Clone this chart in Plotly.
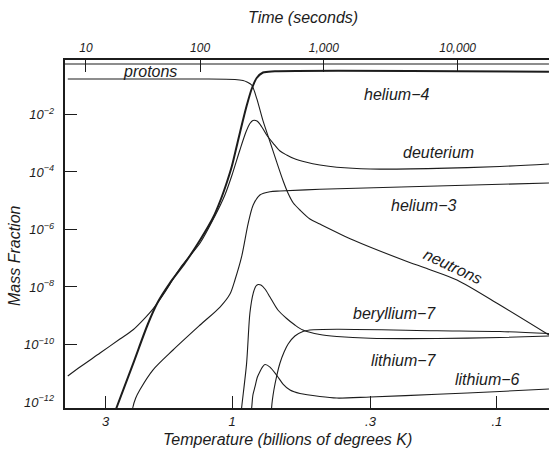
import numpy as np
import plotly.graph_objects as go

# ---------------- data (temperature in 10^9 K, mass fraction) ----------------
protons_T = [4.28, 0.0636]
protons_M = [0.57, 0.57]

neutrons_T = [4.17, 1.32, 0.975, 0.909, 0.878, 0.843, 0.807, 0.762, 0.719, 0.679, 0.641,
              0.615, 0.587, 0.554, 0.508, 0.466, 0.349, 0.226, 0.182, 0.1415, 0.0974, 0.0636]
neutrons_M = [0.171, 0.171, 0.165, 0.152, 0.135, 0.106, 0.0365, 5.61e-3, 1.13e-3, 2.28e-4, 4.85e-5,
              1.86e-5, 8.34e-6, 4.76e-6, 2.32e-6, 1.55e-6, 4.31e-7, 8.69e-8, 4.23e-8, 1.75e-8, 2.36e-9, 2.14e-10]

he4_T = [2.84, 2.73, 2.36, 2.078, 1.905, 1.716, 1.506, 1.32, 1.181, 1.101, 1.045, 1.001, 0.950,
         0.909, 0.881, 0.843, 0.807, 0.764, 0.689, 0.0636]
he4_M = [2.36e-13, 6.3e-13, 2.21e-11, 5.16e-10, 3.0e-9, 1.37e-8, 6.83e-8, 4.31e-7, 2.51e-6, 1.15e-5,
         4.49e-5, 1.61e-4, 1.20e-3, 6.42e-3, 0.0197, 0.0769, 0.186, 0.289, 0.318, 0.308]

deut_T = [4.17, 3.75, 3.15, 2.65, 2.37, 2.133, 1.99, 1.79, 1.57, 1.32, 1.16, 1.064, 1.0, 0.934, 0.886,
          0.856, 0.834, 0.805, 0.773, 0.740, 0.699, 0.659, 0.622, 0.587, 0.523, 0.466, 0.402,
          0.301, 0.168, 0.0974, 0.0636]
deut_M = [8.0e-12, 1.64e-11, 5.05e-11, 1.55e-10, 3.19e-10, 8.34e-10, 1.71e-9, 6.68e-9, 4.57e-8, 3.39e-7,
          2.95e-6, 1.58e-5, 7.85e-5, 5.82e-4, 2.45e-3, 4.86e-3, 6.18e-3, 5.93e-3, 3.76e-3, 1.93e-3,
          9.95e-4, 5.37e-4, 3.89e-4, 2.99e-4, 2.17e-4, 1.75e-4, 1.46e-4, 1.27e-4, 1.34e-4, 1.55e-4, 1.90e-4]

he3_T = [2.39, 2.37, 2.31, 2.23, 1.99, 1.67, 1.32, 1.11, 1.018, 0.975, 0.920, 0.869, 0.832, 0.785,
         0.719, 0.659, 0.466, 0.168, 0.0636]
he3_M = [3.25e-13, 6.3e-13, 1.37e-12, 2.61e-12, 1.29e-11, 6.43e-11, 4.76e-10, 2.01e-9, 5.70e-9,
         1.75e-8, 1.13e-7, 1.64e-6, 7.11e-6, 1.58e-5, 2.06e-5, 2.18e-5, 2.50e-5, 3.26e-5, 4.14e-5]

be7_T = [0.926, 0.920, 0.881, 0.856, 0.832, 0.812, 0.796, 0.778, 0.751, 0.719, 0.671, 0.622, 0.579,
         0.540, 0.466, 0.402, 0.301, 0.168, 0.0974, 0.0636]
be7_M = [3.25e-13, 6.3e-13, 2.21e-11, 1.24e-9, 6.03e-9, 1.08e-8, 1.22e-8, 1.17e-8, 8.51e-9, 4.49e-9,
         1.58e-9, 8.01e-10, 4.76e-10, 3.19e-10, 2.22e-10, 1.90e-10, 1.64e-10, 1.61e-10, 1.75e-10, 1.97e-10]

li7_T = [0.710, 0.709, 0.695, 0.677, 0.659, 0.636, 0.614, 0.579, 0.540, 0.508, 0.402, 0.168, 0.0974, 0.0636]
li7_M = [3.25e-13, 6.3e-13, 2.61e-12, 8.67e-12, 2.27e-11, 5.47e-11, 1.04e-10, 1.97e-10, 2.83e-10,
         3.19e-10, 3.37e-10, 3.01e-10, 2.83e-10, 2.41e-10]

li6_T = [0.852, 0.843, 0.834, 0.819, 0.802, 0.785, 0.768, 0.751, 0.719, 0.675, 0.642, 0.604, 0.554,
         0.466, 0.402, 0.301, 0.168, 0.0974, 0.0636]
li6_M = [3.25e-13, 6.3e-13, 1.75e-12, 3.40e-12, 7.40e-12, 1.13e-11, 1.64e-11, 2.01e-11, 1.64e-11,
         8.0e-12, 4.22e-12, 2.61e-12, 1.97e-12, 1.55e-12, 1.37e-12, 1.49e-12, 1.85e-12, 2.32e-12, 2.83e-12]

# axis ticks
temp_ticks = [3, 1, 0.3, 0.1]
temp_labels = ["3", "1", ".3", ".1"]
time_labels = ["10", "100", "1,000", "10,000"]
time_tick_T = [3.56, 1.32, 0.450, 0.1407]   # temperature at which each time is reached
mass_exps = [-2, -4, -6, -8, -10, -12]

# curve labels: (text, T, M, angle)
label_text = ["protons", "helium\u22124", "deuterium", "helium\u22123", "neutrons",
              "beryllium\u22127", "lithium\u22127", "lithium\u22126"]
label_T = [2.04, 0.2384, 0.1655, 0.1885, 0.1465, 0.2446, 0.2243, 0.1089]
label_M = [0.313, 0.0515, 4.95e-4, 7.10e-6, 5.37e-8, 1.245e-9, 2.88e-11, 6.30e-12]
label_angle = [0, 0, 0, 0, 25, 0, 0, 0]

# ---------------- figure ----------------
INK = "#1c1c1c"
FONT = "Liberation Sans, Arial, sans-serif"
xr = [0.6306, -1.1967]
yr = [-12.209, -0.105]

fig = go.Figure()

def add(T, M, w=1.1):
    fig.add_trace(go.Scatter(x=T, y=M, mode="lines",
                             line=dict(color=INK, width=w, shape="spline", smoothing=0.8),
                             showlegend=False, hoverinfo="skip"))

add(protons_T, protons_M)
add(neutrons_T, neutrons_M)
add(deut_T, deut_M)
add(he3_T, he3_M)
add(be7_T, be7_M)
add(li7_T, li7_M)
add(li6_T, li6_M)
add(he4_T, he4_M, w=2.0)

# dummy traces to activate the extra axes
fig.add_trace(go.Scatter(x=[None], y=[None], xaxis="x2", yaxis="y", showlegend=False, hoverinfo="skip"))
fig.add_trace(go.Scatter(x=[None], y=[None], xaxis="x", yaxis="y2", showlegend=False, hoverinfo="skip"))

annotations = []
for t, T, M, a in zip(label_text, label_T, label_M, label_angle):
    annotations.append(dict(text=t, x=np.log10(T), y=np.log10(M), xref="x", yref="y",
                            xanchor="center", yanchor="middle",
                            showarrow=False, textangle=a,
                            font=dict(family=FONT, size=16, color=INK, style="italic")))

title_font = dict(family=FONT, size=16, color=INK, style="italic")
annotations += [
    dict(text="Time (seconds)", x=0.4917, y=1.1207, xref="paper", yref="paper", showarrow=False,
         xanchor="center", yanchor="middle", font=title_font),
    dict(text="Temperature (billions of degrees K)", x=0.4607, y=-0.0891, xref="paper", yref="paper",
         xanchor="center", yanchor="middle", showarrow=False, font=title_font),
    dict(text="Mass Fraction", x=-0.1033, y=0.4368, xref="paper", yref="paper", showarrow=False,
         xanchor="center", yanchor="middle", textangle=-90, font=title_font),
]

tickfont = dict(family=FONT, size=12, color=INK, style="italic")

fig.update_layout(
    width=549, height=449,
    margin=dict(l=65, r=0, t=60, b=41),
    paper_bgcolor="white", plot_bgcolor="white",
    font=dict(family=FONT, color=INK, style="italic"),
    showlegend=False,
    annotations=annotations,
    xaxis=dict(type="log", range=xr, showline=True, linecolor=INK, linewidth=1.5,
               ticks="inside", ticklen=12, tickwidth=1.2, tickcolor=INK,
               tickvals=temp_ticks, ticktext=temp_labels, tickfont=dict(tickfont, size=13),
               showgrid=False, zeroline=False, mirror=False, ticklabelstandoff=1),
    xaxis2=dict(type="log", range=xr, overlaying="x", side="top", anchor="y",
                showline=True, linecolor=INK, linewidth=1.5,
                ticks="inside", ticklen=12, tickwidth=1.2, tickcolor=INK,
                tickvals=time_tick_T, ticktext=time_labels, tickfont=tickfont,
                showgrid=False, zeroline=False, ticklabelstandoff=1),
    yaxis=dict(type="log", range=yr, showline=True, linecolor=INK, linewidth=1.5,
               ticks="inside", ticklen=12, tickwidth=1.2, tickcolor=INK,
               tickvals=[10.0 ** e for e in mass_exps[:-1]], showticklabels=False,
               showgrid=False, zeroline=False),
    yaxis2=dict(type="log", range=yr, overlaying="y", side="left", anchor="x",
                showline=False, ticks="", tickvals=[10.0 ** e for e in mass_exps],
                ticktext=["10<sup>\u2212%d</sup>" % (-e) for e in mass_exps],
                tickfont=dict(tickfont, size=13), showgrid=False, zeroline=False,
                ticklabelstandoff=10),
)

fig.write_html("out.html")
